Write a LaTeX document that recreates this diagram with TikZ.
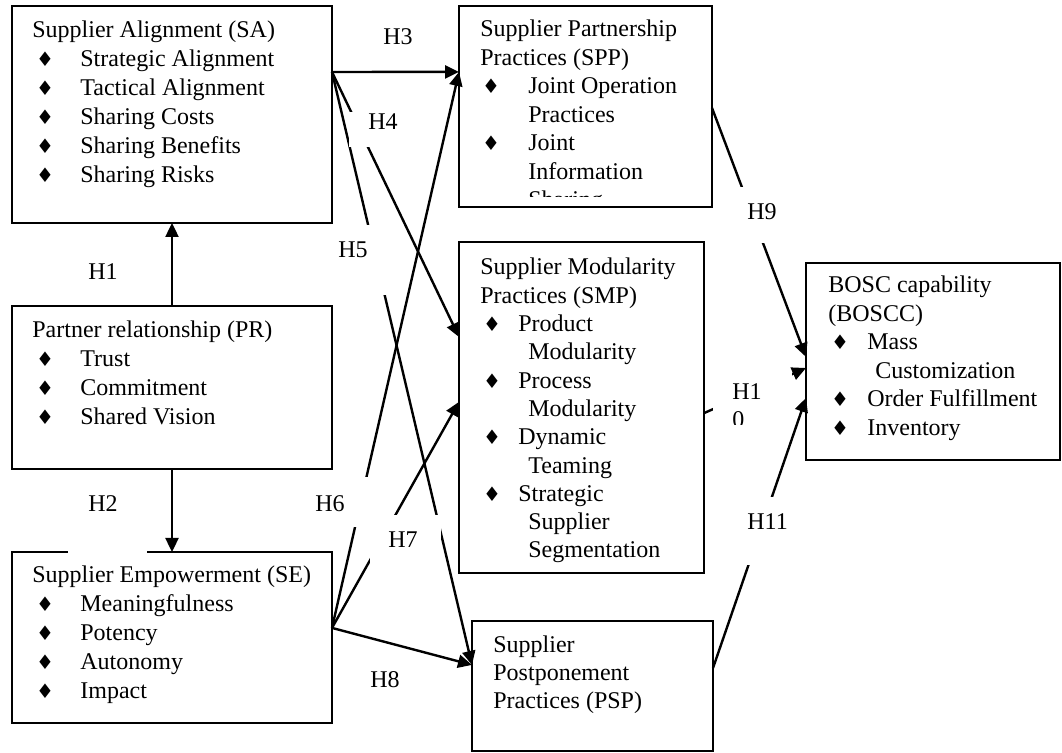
\documentclass[tikz,border=0pt]{standalone}
\usepackage{fontspec}
\setmainfont{Liberation Serif}
\newfontfamily\symfont{DejaVu Sans}
\usetikzlibrary{arrows.meta,calc}
% bullet glyph and a bullet cell of given width with a given lead-in
\newcommand\bul{{\symfont\fontsize{10}{10}\selectfont ♦}}
\newcommand\bl[2]{\makebox[#1][l]{\hspace{#2}\bul}}
\begin{document}
\begin{tikzpicture}[x=0.5pt,y=-0.5pt,
  box/.style={draw, line width=1pt, inner sep=0pt, outer sep=0pt, anchor=north west},
  txt/.style={anchor=base west, inner sep=0pt, font=\fontsize{12}{#1}\selectfont},
  lbl/.style={anchor=base west, inner sep=0pt, font=\fontsize{12}{14}\selectfont},
  conn/.style={line width=1.2pt, -{Triangle[length=7pt,width=6.5pt]}},
  mask/.style={fill=white}]
\useasboundingbox (0,0) rectangle (1062,753);

% ---- construct boxes
\node[box, minimum width=160pt, minimum height=108.5pt] (sa)    at (12,6)   {};
\node[box, minimum width=160pt, minimum height=81.5pt]  (pr)    at (12,306) {};
\node[box, minimum width=160pt, minimum height=85.5pt]  (se)    at (12,552) {};
\node[box, minimum width=126.5pt, minimum height=100.5pt] (spp) at (459,6)  {};
\node[box, minimum width=122.5pt, minimum height=165.5pt] (smp) at (459,242) {};
\node[box, minimum width=120.5pt, minimum height=65pt]  (psp)   at (472,621) {};
\node[box, minimum width=127pt, minimum height=98.5pt]  (bosc)  at (806,263) {};

% ---- box contents
\node[txt=14.5pt] (sa-t) at (32,38) {\begin{tabular}[t]{@{}l@{}l@{}}
\multicolumn{2}{@{}l@{}}{Supplier Alignment (SA)}\\
\bl{24pt}{1.9pt} & Strategic Alignment\\
\bl{24pt}{1.9pt} & Tactical Alignment\\
\bl{24pt}{1.9pt} & Sharing Costs\\
\bl{24pt}{1.9pt} & Sharing Benefits\\
\bl{24pt}{1.9pt} & Sharing Risks
\end{tabular}};

\node[txt=14.5pt] (pr-t) at (32,338) {\begin{tabular}[t]{@{}l@{}l@{}}
\multicolumn{2}{@{}l@{}}{Partner relationship (PR)}\\
\bl{24pt}{1.9pt} & Trust\\
\bl{24pt}{1.9pt} & Commitment\\
\bl{24pt}{1.9pt} & Shared Vision
\end{tabular}};

\node[txt=14.5pt] (se-t) at (32,583) {\begin{tabular}[t]{@{}l@{}l@{}}
\multicolumn{2}{@{}l@{}}{Supplier Empowerment (SE)}\\
\bl{24pt}{1.9pt} & Meaningfulness\\
\bl{24pt}{1.9pt} & Potency\\
\bl{24pt}{1.9pt} & Autonomy\\
\bl{24pt}{1.9pt} & Impact
\end{tabular}};

\begin{scope}
\clip (spp.north west) rectangle ($(spp.south east)+(0,-10)$);
\node[txt=14.25pt] (spp-t) at (480,37) {\begin{tabular}[t]{@{}l@{}l@{}}
\multicolumn{2}{@{}l@{}}{Supplier Partnership}\\
\multicolumn{2}{@{}l@{}}{Practices (SPP)}\\
\bl{24pt}{0.9pt} & Joint Operation\\
 & Practices\\
\bl{24pt}{0.9pt} & Joint\\
 & Information\\
 & Sharing
\end{tabular}};
\end{scope}

\node[txt=14.15pt] (smp-t) at (480,275) {\begin{tabular}[t]{@{}l@{}l@{}}
\multicolumn{2}{@{}l@{}}{Supplier Modularity}\\
\multicolumn{2}{@{}l@{}}{Practices (SMP)}\\
\bl{19pt}{1.4pt} & Product\\
 & \hspace{5pt}Modularity\\
\bl{19pt}{1.4pt} & Process\\
 & \hspace{5pt}Modularity\\
\bl{19pt}{1.4pt} & Dynamic\\
 & \hspace{5pt}Teaming\\
\bl{19pt}{1.4pt} & Strategic\\
 & \hspace{5pt}Supplier\\
 & \hspace{5pt}Segmentation
\end{tabular}};

\node[txt=14.25pt] (bosc-t) at (828,293) {\begin{tabular}[t]{@{}l@{}l@{}}
\multicolumn{2}{@{}l@{}}{BOSC capability}\\
\multicolumn{2}{@{}l@{}}{(BOSCC)}\\
\bl{19.5pt}{1.4pt} & Mass\\
 & \hspace{4pt}Customization\\
\bl{19.5pt}{1.4pt} & Order Fulfillment\\
\bl{19.5pt}{1.4pt} & Inventory
\end{tabular}};

\node[txt=13.9pt] (psp-t) at (493,653) {\begin{tabular}[t]{@{}l@{}}
Supplier\\ Postponement\\ Practices (PSP)
\end{tabular}};

% ---- connector ports on box edges
\coordinate (sa-o)  at ($(sa.north east)!0.304!(sa.south east)$);
\coordinate (se-o)  at ($(se.north east)!0.444!(se.south east)$);
\coordinate (spp-i) at ($(spp.north west)!0.328!(spp.south west)$);
\coordinate (spp-o) at ($(spp.north east)!0.507!(spp.south east)$);
\coordinate (smp-i4) at ($(smp.north west)!0.287!(smp.south west)$);
\coordinate (smp-i7) at ($(smp.north west)!0.483!(smp.south west)$);
\coordinate (smp-o) at ($(smp.north east)!0.517!(smp.south east)$);
\coordinate (psp-i) at ($(psp.north west)!0.338!(psp.south west)$);
\coordinate (psp-o) at ($(psp.north east)!0.362!(psp.south east)$);
\coordinate (bosc-i9)  at ($(bosc.north west)!0.477!(bosc.south west)$);
\coordinate (bosc-i10) at ($(bosc.north west)!0.533!(bosc.south west)$);
\coordinate (bosc-i11) at ($(bosc.north west)!0.685!(bosc.south west)$);

% ---- hypothesis connectors
\draw[conn] (pr.north) -- (sa.south);
\draw[conn] (pr.south) -- (se.north);
\draw[conn] (sa-o) -- (spp-i);
\draw[conn] (sa-o) -- (smp-i4);
\draw[conn] (sa-o) -- (psp-i);
\draw[conn] (se-o) -- (spp-i);
\draw[conn] (se-o) -- (smp-i7);
\draw[conn] (se-o) -- (psp-i);
\draw[conn] (spp-o) -- (bosc-i9);
\draw[conn] (smp-o) -- (bosc-i10);
\draw[conn] (psp-o) -- (bosc-i11);

% ---- opaque label backgrounds
\fill[mask] (68,480) rectangle (147,553.5);
\fill[mask] (349,112) rectangle (425,147);
\fill[mask] (336,225) rectangle (400,295);
\fill[mask] (305,477) rectangle (375,527);
\fill[mask] (370,515) rectangle (441,570);
\fill[mask] (735,187) rectangle (790,243);
\fill[mask] (740,497) rectangle (800,565);

% ---- hypothesis labels
\node[lbl] (h1) at (88,280) {H1};
\node[lbl] (h2) at (88,512) {H2};
\node[lbl] (h3) at (383,45) {H3};
\node[lbl] (h4) at (368,130) {H4};
\node[lbl] (h5) at (338,258) {H5};
\node[lbl] (h6) at (315,512) {H6};
\node[lbl] (h7) at (388,548) {H7};
\node[lbl] (h8) at (370,688) {H8};
\node[lbl] (h9) at (747,220) {H9};
\node[lbl] (h11) at (747,530) {H11};
\begin{scope}
\clip (713,372) rectangle (792,425);
\fill[mask] (713,372) rectangle (792,425);
\node[lbl] (h10) at (732,400) {\begin{tabular}[t]{@{}l@{}}H1\\0\end{tabular}};
\end{scope}
\end{tikzpicture}
\end{document}
